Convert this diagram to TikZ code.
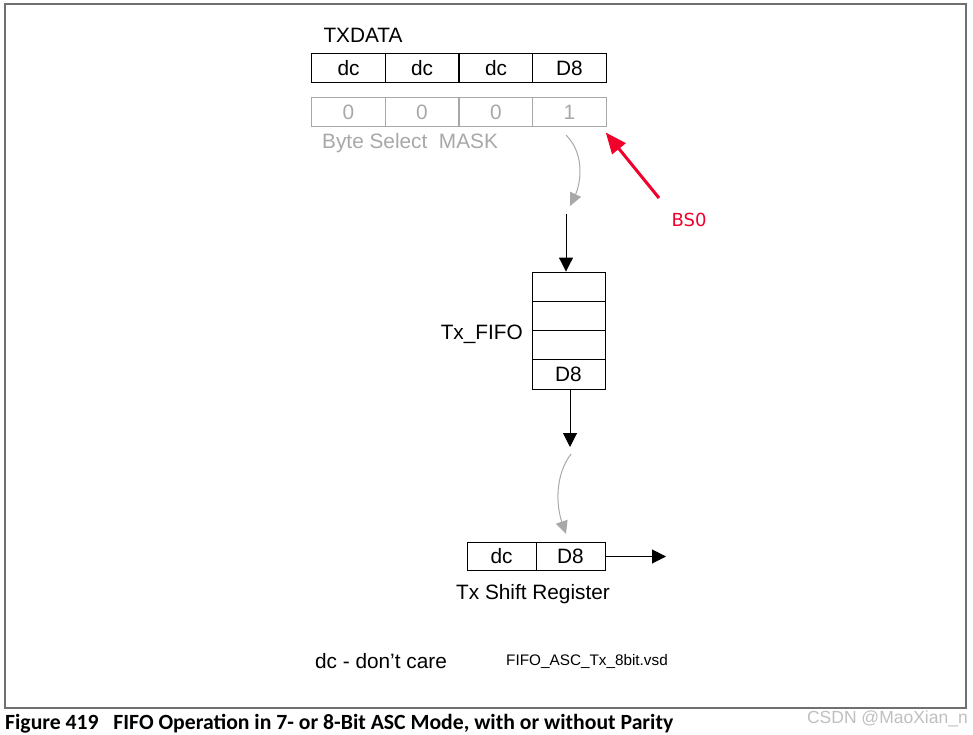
\documentclass[tikz,border=0pt]{standalone}
\usepackage{fontspec}
\setmainfont{Liberation Sans}
\newfontfamily\capfont{Carlito}
\newfontfamily\dejafont{DejaVu Sans}
\usetikzlibrary{arrows.meta,calc}
\definecolor{maskgray}{HTML}{A8A8A8}
\definecolor{framegray}{HTML}{707070}
\definecolor{bsred}{HTML}{F0002A}
\begin{document}
\begin{tikzpicture}[x=1pt,y=-1pt,
  cell/.style={draw=black,line width=1pt,inner sep=0pt,minimum width=73.5pt,minimum height=29pt,font=\fontsize{20.8}{24}\selectfont},
  mcell/.style={cell,draw=maskgray,text=maskgray},
  fcell/.style={cell,minimum width=73pt,minimum height=29.3pt},
  scell/.style={cell,minimum width=69pt,minimum height=28pt},
  lbl/.style={inner sep=0pt,font=\fontsize{20.8}{24}\selectfont},
  blk/.style={line width=1pt,-{Triangle[length=14pt,width=14pt]}},
  gry/.style={draw=maskgray,line width=1pt,-{Triangle[length=13pt,width=12pt,fill=maskgray]}}]
\useasboundingbox (0,0) rectangle (973,735);
\draw[framegray,line width=1.2pt] (5,4) rectangle (966,708);
% TXDATA
\node[lbl] (txl) at (363,35) {TXDATA};
\node[cell] (t1) at (348.5,68.5) {dc};
\node[cell] (t2) at (422,68.5) {dc};
\node[cell] (t3) at (496,68.5) {dc};
\node[cell] (t4) at (569.5,68.5) {D8};
% mask
\node[mcell] (m1) at (348.5,112.5) {0};
\node[mcell] (m2) at (422,112.5) {0};
\node[mcell] (m3) at (496,112.5) {0};
\node[mcell] (m4) at (569.5,112.5) {1};
\node[lbl,text=maskgray,anchor=west] (msk) at (322,143) {Byte Select\ \ MASK};
% red arrow
\coordinate (bsa) at (659,198);
\node[inner sep=0pt,text=bsred,font=\dejafont\fontsize{18}{22}\selectfont] (bs) at (689,220) {BS0};
\draw[bsred,line width=3pt,-{Triangle[length=21pt,width=17pt]}] (bsa) -- ($(m4.south east)+(-1,5)$);
% gray curve 1
\coordinate (g1s) at (566,135);
\coordinate (g1e) at (570,206);
\draw[gry] (g1s) .. controls (586,155) and (580,185) .. (g1e);
% FIFO
\node[fcell] (f1) at (568.5,286.7) {};
\node[fcell] (f2) at (568.5,316) {};
\node[fcell] (f3) at (568.5,345.3) {};
\node[fcell] (f4) at (568.5,374.6) {D8};
\node[lbl,anchor=east] (ffl) at (523,334) {Tx\_FIFO};
\coordinate (a1s) at (566,214);
\draw[blk] (a1s) -- (a1s |- f1.north);
\coordinate (a2s) at (570,389.2);
\coordinate (a2e) at (570,447);
\draw[blk] (a2s) -- (a2e);
% gray curve 2
\coordinate (g2s) at (571,454);
\coordinate (g2e) at (566,534);
\draw[gry] (g2s) .. controls (555,475) and (556,505) .. (g2e);
% shift register
\node[scell] (s1) at (501.5,556.5) {dc};
\node[scell] (s2) at (570.5,556.5) {D8};
\coordinate (oute) at (666,556.5);
\draw[blk] (s2.east) -- (oute);
\node[lbl] (srl) at (533,594) {Tx Shift Register};
% notes
\node[lbl] (dcn) at (381,661) {dc - don’t care};
\node[inner sep=0pt,font=\fontsize{15.3}{18}\selectfont] (vsd) at (587,661) {FIFO\_ASC\_Tx\_8bit.vsd};
% caption
\node[inner sep=0pt,anchor=west,font=\capfont\bfseries\fontsize{21.7}{26}\selectfont] (cap) at (5,723.5) {Figure 419\ \ \ FIFO Operation in 7- or 8-Bit ASC Mode, with or without Parity};
\node[inner sep=0pt,anchor=east,text=black!25,font=\fontsize{17.5}{20}\selectfont] (wm) at (968,718.5) {CSDN @MaoXian\_n};
\end{tikzpicture}
\end{document}
